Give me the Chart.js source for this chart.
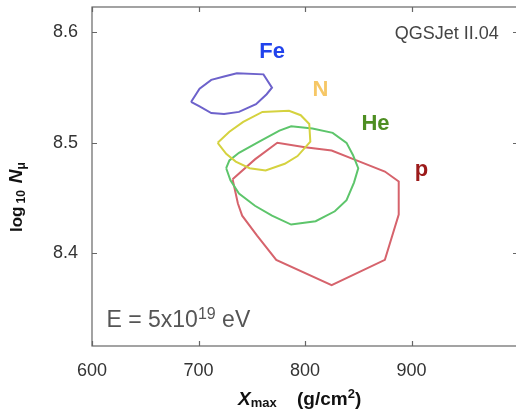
<!DOCTYPE html>
<html lang="en">
<head>
    <meta charset="UTF-8">
    <title>Xmax vs log10 Nmu</title>
    <script src="https://cdn.jsdelivr.net/npm/chart.js"></script>
    <style>
        html, body { margin: 0; padding: 0; background: #fff; overflow: hidden; }
    </style>
</head>
<body>
    <canvas id="contourChart" width="520" height="410"></canvas>

    <script>
        // contour outlines (Xmax in g/cm2, log10 Nmu)
        const feX = [693, 701, 712, 724, 736, 761, 769, 764, 754, 738, 724, 712, 701];
        const feY = [8.537, 8.549, 8.557, 8.560, 8.563, 8.562, 8.550, 8.544, 8.535, 8.528, 8.526, 8.527, 8.533];

        const nX = [718, 729, 742, 760, 785, 796, 804, 805, 793, 781, 763, 748, 735, 726];
        const nY = [8.500, 8.510, 8.519, 8.528, 8.529, 8.525, 8.517, 8.501, 8.488, 8.481, 8.475, 8.477, 8.483, 8.490];

        const heX = [726, 730, 738, 753, 769, 787, 810, 828, 839, 846, 850, 845, 839, 826, 807, 787, 776, 757, 738, 729];
        const heY = [8.477, 8.466, 8.454, 8.443, 8.434, 8.426, 8.429, 8.438, 8.448, 8.464, 8.477, 8.489, 8.500, 8.509, 8.513, 8.515, 8.511, 8.501, 8.491, 8.484];

        const pX = [732, 737, 741, 755, 773, 825, 875, 888, 888, 875, 846, 825, 800, 774, 753];
        const pY = [8.467, 8.445, 8.434, 8.416, 8.394, 8.371, 8.394, 8.435, 8.465, 8.474, 8.485, 8.493, 8.496, 8.500, 8.485];

        const xTicks = [600, 700, 800, 900];
        const yTicks = [8.4, 8.5, 8.6];

        // turn two lists into closed outline points
        function outline(xs, ys) {
            const pts = xs.map((x, i) => ({ x: x, y: ys[i] }));
            pts.push(pts[0]);
            return pts;
        }

        function ring(label, xs, ys, color) {
            return {
                label: label,
                data: outline(xs, ys),
                showLine: true,
                borderColor: color,
                borderWidth: 2,
                pointRadius: 0,
                fill: false,
                tension: 0
            };
        }

        const FONT = '"Liberation Sans", Arial, sans-serif';

        // box, inward ticks, titles and labels
        const decorations = {
            id: 'decorations',
            afterDraw(chart) {
                const ctx = chart.ctx;
                const a = chart.chartArea;
                const xs = chart.scales.x;
                const ys = chart.scales.y;
                ctx.save();

                ctx.strokeStyle = '#666';
                ctx.lineWidth = 1.2;
                ctx.strokeRect(a.left, a.top, a.right - a.left, a.bottom - a.top);

                ctx.beginPath();
                xTicks.forEach(v => {
                    const px = Math.round(xs.getPixelForValue(v)) + 0.5;
                    ctx.moveTo(px, a.bottom); ctx.lineTo(px, a.bottom - 5);
                    ctx.moveTo(px, a.top); ctx.lineTo(px, a.top + 5);
                });
                yTicks.forEach(v => {
                    const py = Math.round(ys.getPixelForValue(v)) + 0.5;
                    ctx.moveTo(a.left, py); ctx.lineTo(a.left + 5, py);
                    ctx.moveTo(a.right, py); ctx.lineTo(a.right - 5, py);
                });
                ctx.stroke();

                // series labels
                ctx.font = 'bold 22px ' + FONT;
                ctx.textBaseline = 'alphabetic';
                ctx.textAlign = 'left';
                const tags = [
                    ['Fe', 757, 8.577, '#2143ec'],
                    ['N', 807, 8.542, '#f6c766'],
                    ['He', 853, 8.512, '#4e8e22'],
                    ['p', 903, 8.470, '#9c1a1a']
                ];
                tags.forEach(t => {
                    ctx.fillStyle = t[3];
                    ctx.fillText(t[0], xs.getPixelForValue(t[1]), ys.getPixelForValue(t[2]));
                });

                // model name
                ctx.font = '18px ' + FONT;
                ctx.fillStyle = '#444';
                ctx.textAlign = 'right';
                ctx.fillText('QGSJet II.04', xs.getPixelForValue(982), ys.getPixelForValue(8.594));

                // energy
                ctx.textAlign = 'left';
                ctx.fillStyle = '#555';
                let ex = xs.getPixelForValue(613.6);
                const ey = ys.getPixelForValue(8.333);
                ctx.font = '23px ' + FONT;
                ctx.fillText('E = 5x10', ex, ey);
                ex += ctx.measureText('E = 5x10').width;
                ctx.font = '16px ' + FONT;
                ctx.fillText('19', ex, ey - 8);
                ex += ctx.measureText('19').width;
                ctx.font = '23px ' + FONT;
                ctx.fillText(' eV', ex, ey);

                // x title
                ctx.fillStyle = '#111';
                let tx = 238;
                const ty = 405;
                ctx.font = 'italic bold 19px ' + FONT;
                ctx.fillText('X', tx, ty);
                tx += ctx.measureText('X').width;
                ctx.font = 'bold 13px ' + FONT;
                ctx.fillText('max', tx, ty + 2);
                tx = 297;
                ctx.font = 'bold 19px ' + FONT;
                ctx.fillText('(g/cm', tx, ty);
                tx += ctx.measureText('(g/cm').width;
                ctx.font = 'bold 13px ' + FONT;
                ctx.fillText('2', tx, ty - 7);
                tx += ctx.measureText('2').width;
                ctx.font = 'bold 19px ' + FONT;
                ctx.fillText(')', tx, ty);

                // y title, rotated
                ctx.translate(22, 232);
                ctx.rotate(-Math.PI / 2);
                let lx = 0;
                ctx.font = 'bold 17px ' + FONT;
                ctx.fillText('log', lx, 0);
                lx += ctx.measureText('log').width + 3;
                ctx.font = 'bold 12px ' + FONT;
                ctx.fillText('10', lx, 3);
                lx += ctx.measureText('10').width + 7;
                ctx.font = 'italic bold 19px ' + FONT;
                ctx.fillText('N', lx, 0);
                lx += ctx.measureText('N').width;
                ctx.font = 'bold 12px ' + FONT;
                ctx.fillText('\u03bc', lx, 3);

                ctx.restore();
            }
        };

        const ctx = document.getElementById('contourChart').getContext('2d');
        const contourChart = new Chart(ctx, {
            type: 'scatter',
            data: {
                datasets: [
                    ring('Fe', feX, feY, '#6d62cb'),
                    ring('N', nX, nY, '#d5d23f'),
                    ring('He', heX, heY, '#5dc56b'),
                    ring('p', pX, pY, '#d6636c')
                ]
            },
            options: {
                responsive: false,
                animation: false,
                devicePixelRatio: 1,
                layout: { padding: { top: 7, right: 2, left: 0, bottom: 0 } },
                plugins: {
                    legend: { display: false },
                    tooltip: { enabled: false }
                },
                scales: {
                    x: {
                        type: 'linear',
                        min: 600,
                        max: 1000,
                        grid: { display: false, drawTicks: false },
                        border: { display: false },
                        afterBuildTicks: s => { s.ticks = xTicks.map(v => ({ value: v })); },
                        afterFit: s => { s.height = 64; s.paddingLeft = 0; s.paddingRight = 0; },
                        ticks: {
                            padding: 14,
                            color: '#333',
                            font: { size: 18, family: FONT }
                        }
                    },
                    y: {
                        type: 'linear',
                        min: 8.316,
                        max: 8.623,
                        grid: { display: false, drawTicks: false },
                        border: { display: false },
                        afterBuildTicks: s => { s.ticks = yTicks.map(v => ({ value: v })); },
                        afterFit: s => { s.width = 92; s.paddingTop = 0; s.paddingBottom = 0; },
                        ticks: {
                            padding: 14,
                            color: '#333',
                            font: { size: 18, family: FONT },
                            callback: v => v.toFixed(1)
                        }
                    }
                }
            },
            plugins: [decorations]
        });
    </script>
</body>
</html>
